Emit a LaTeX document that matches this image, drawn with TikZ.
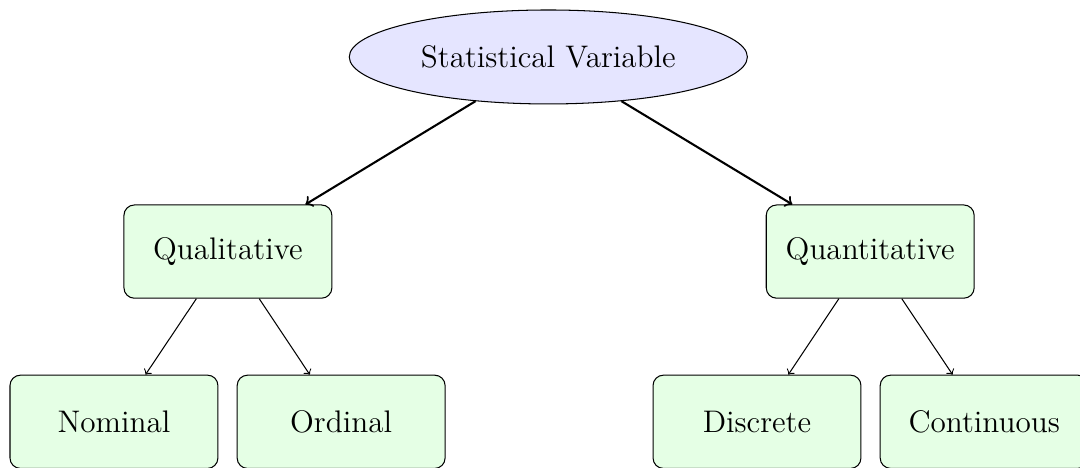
\documentclass[tikz,border=0pt]{standalone}
\usetikzlibrary{shapes.geometric}

\begin{document}
\begin{tikzpicture}[font=\large,
  rootnode/.style={ellipse,draw,fill=blue!10,minimum width=5.38cm,minimum height=1.27cm},
  catbox/.style={rectangle,rounded corners,draw,fill=green!10,minimum width=2.81cm,minimum height=1.26cm},
  toparrow/.style={->,thick},
  subarrow/.style={->}]
\useasboundingbox (0,0) rectangle (14.595,-6.324);
% root
\node[rootnode] (var) at (7.41,-0.77) {Statistical Variable};
% second level
\node[catbox] (qual) at (3.08,-3.40) {Qualitative};
\node[catbox] (quant) at (11.76,-3.40) {Quantitative};
% third level
\node[catbox] (nominal) at (1.54,-5.70) {Nominal};
\node[catbox] (ordinal) at (4.61,-5.70) {Ordinal};
\node[catbox] (discrete) at (10.23,-5.70) {Discrete};
\node[catbox] (continuous) at (13.30,-5.70) {Continuous};
% edges
\draw[toparrow] (var) -- (qual);
\draw[toparrow] (var) -- (quant);
\draw[subarrow] (qual) -- (nominal);
\draw[subarrow] (qual) -- (ordinal);
\draw[subarrow] (quant) -- (discrete);
\draw[subarrow] (quant) -- (continuous);
\end{tikzpicture}
\end{document}
